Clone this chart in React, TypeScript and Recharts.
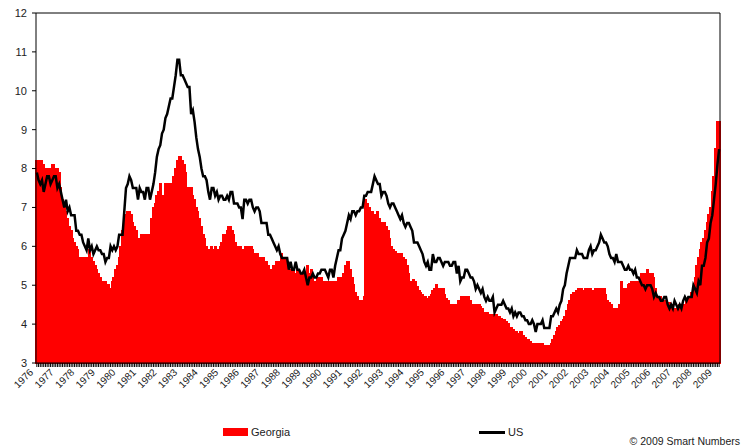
import React from "react";
import {
  ComposedChart,
  Bar,
  Line,
  XAxis,
  YAxis,
  ReferenceLine,
} from "recharts";

// one label per year, data is monthly Jan 1976 .. Mar 2009
const years = [
  "1976", "1977", "1978", "1979", "1980", "1981", "1982", "1983", "1984",
  "1985", "1986", "1987", "1988", "1989", "1990", "1991", "1992", "1993",
  "1994", "1995", "1996", "1997", "1998", "1999", "2000", "2001", "2002",
  "2003", "2004", "2005", "2006", "2007", "2008", "2009",
];

const georgia = [
  8.2, 8.2, 8.1, 8.2, 8.1, 8.0, 8.0, 8.0, 8.0, 8.1, 8.1, 8.0, // 1976
  8.0, 7.9, 7.5, 7.2, 7.0, 6.9, 6.7, 6.5, 6.4, 6.2, 6.1, 6.0, // 1977
  5.9, 5.7, 5.7, 5.7, 5.7, 5.7, 5.7, 5.9, 5.7, 5.6, 5.5, 5.4, // 1978
  5.3, 5.2, 5.1, 5.1, 5.1, 5.0, 5.0, 4.9, 5.1, 5.2, 5.4, 5.5, // 1979
  5.7, 6.0, 6.4, 6.7, 6.8, 6.9, 6.9, 6.8, 6.6, 6.5, 6.4, 6.1, // 1980
  6.2, 6.3, 6.3, 6.3, 6.3, 6.3, 6.3, 6.7, 7.0, 7.1, 7.3, 7.4, // 1981
  7.6, 7.2, 7.3, 7.6, 7.6, 7.6, 7.6, 7.5, 7.8, 8.0, 8.2, 8.3, // 1982
  8.3, 8.2, 8.1, 7.9, 7.5, 7.5, 7.5, 7.3, 7.2, 7.0, 6.9, 6.7, // 1983
  6.5, 6.3, 6.2, 6.0, 5.9, 5.9, 6.0, 5.9, 6.0, 5.9, 5.9, 6.0, // 1984
  6.1, 6.3, 6.3, 6.4, 6.5, 6.5, 6.4, 6.3, 6.1, 6.0, 6.0, 6.0, // 1985
  5.9, 5.9, 6.0, 6.0, 6.0, 6.0, 5.9, 5.8, 5.8, 5.8, 5.7, 5.7, // 1986
  5.7, 5.6, 5.6, 5.5, 5.4, 5.4, 5.5, 5.5, 5.6, 5.6, 5.5, 5.8, // 1987
  5.7, 5.7, 5.6, 5.5, 5.4, 5.4, 5.4, 5.3, 5.4, 5.3, 5.3, 5.3, // 1988
  5.3, 5.3, 5.5, 5.3, 5.4, 5.3, 5.1, 5.1, 5.2, 5.2, 5.2, 5.1, // 1989
  5.1, 5.1, 5.1, 5.1, 5.1, 5.1, 5.1, 5.1, 5.2, 5.2, 5.2, 5.3, // 1990
  5.5, 5.6, 5.6, 5.4, 5.2, 5.0, 4.8, 4.7, 4.6, 4.6, 4.6, 4.7, // 1991
  7.2, 7.1, 7.0, 6.9, 6.9, 6.8, 6.8, 6.9, 6.7, 6.6, 6.6, 6.6, // 1992
  6.5, 6.4, 6.2, 6.0, 5.9, 5.85, 5.8, 5.8, 5.8, 5.8, 5.7, 5.65, // 1993
  5.5, 5.3, 5.1, 5.0, 5.15, 5.1, 4.95, 4.85, 4.8, 4.75, 4.7, 4.7, // 1994
  4.65, 4.7, 4.75, 4.85, 4.9, 5.0, 4.9, 4.9, 4.9, 4.9, 4.75, 4.65, // 1995
  4.6, 4.5, 4.5, 4.5, 4.5, 4.5, 4.6, 4.6, 4.7, 4.7, 4.7, 4.7, // 1996
  4.7, 4.6, 4.5, 4.5, 4.5, 4.5, 4.5, 4.45, 4.4, 4.3, 4.3, 4.3, // 1997
  4.25, 4.25, 4.25, 4.25, 4.25, 4.2, 4.2, 4.15, 4.1, 4.1, 4.05, 4.0, // 1998
  3.9, 3.9, 3.85, 3.8, 3.8, 3.75, 3.8, 3.8, 3.7, 3.65, 3.6, 3.6, // 1999
  3.55, 3.5, 3.5, 3.5, 3.5, 3.5, 3.5, 3.5, 3.45, 3.45, 3.45, 3.45, // 2000
  3.5, 3.6, 3.7, 3.8, 3.9, 3.95, 4.05, 4.1, 4.2, 4.35, 4.5, 4.6, // 2001
  4.75, 4.8, 4.8, 4.85, 4.9, 4.9, 4.9, 4.85, 4.9, 4.9, 4.9, 4.9, // 2002
  4.85, 4.85, 4.9, 4.9, 4.9, 4.9, 4.9, 4.9, 4.75, 4.6, 4.55, 4.5, // 2003
  4.4, 4.4, 4.3, 4.4, 4.5, 5.1, 4.9, 4.9, 4.9, 5.0, 5.05, 5.1, // 2004
  5.1, 5.1, 5.1, 5.1, 5.2, 5.3, 5.3, 5.3, 5.4, 5.3, 5.3, 5.3, // 2005
  5.2, 4.9, 4.7, 4.7, 4.7, 4.6, 4.6, 4.55, 4.55, 4.55, 4.5, 4.5, // 2006
  4.4, 4.2, 4.4, 4.5, 4.5, 4.5, 4.4, 4.6, 4.65, 4.7, 4.8, 4.9, // 2007
  5.2, 5.5, 5.7, 5.9, 6.1, 6.2, 6.4, 6.6, 6.8, 7.0, 7.4, 7.8, // 2008
  8.5, 9.2, 9.2, // 2009
];

const us = [
  7.9, 7.7, 7.6, 7.7, 7.4, 7.6, 7.8, 7.8, 7.6, 7.7, 7.8, 7.8, // 1976
  7.5, 7.6, 7.4, 7.2, 7.0, 7.2, 6.9, 7.0, 6.8, 6.8, 6.8, 6.4, // 1977
  6.4, 6.3, 6.3, 6.1, 6.0, 5.9, 6.2, 5.9, 6.0, 5.8, 5.9, 6.0, // 1978
  5.9, 5.9, 5.8, 5.8, 5.6, 5.7, 5.7, 6.0, 5.9, 6.0, 5.9, 6.0, // 1979
  6.3, 6.3, 6.3, 6.9, 7.5, 7.6, 7.8, 7.7, 7.5, 7.5, 7.5, 7.2, // 1980
  7.5, 7.4, 7.4, 7.2, 7.5, 7.5, 7.2, 7.4, 7.6, 7.9, 8.3, 8.5, // 1981
  8.6, 8.9, 9.0, 9.3, 9.4, 9.6, 9.8, 9.8, 10.1, 10.4, 10.8, 10.8, // 1982
  10.4, 10.4, 10.3, 10.2, 10.1, 10.1, 9.4, 9.5, 9.2, 8.8, 8.5, 8.3, // 1983
  8.0, 7.8, 7.8, 7.7, 7.4, 7.2, 7.5, 7.5, 7.3, 7.4, 7.2, 7.3, // 1984
  7.3, 7.2, 7.2, 7.3, 7.2, 7.4, 7.4, 7.1, 7.1, 7.1, 7.0, 7.0, // 1985
  6.7, 7.2, 7.2, 7.1, 7.2, 7.2, 7.0, 6.9, 7.0, 7.0, 6.9, 6.6, // 1986
  6.6, 6.6, 6.6, 6.3, 6.3, 6.2, 6.1, 6.0, 5.9, 6.0, 5.8, 5.7, // 1987
  5.7, 5.7, 5.7, 5.4, 5.6, 5.4, 5.4, 5.6, 5.4, 5.4, 5.3, 5.3, // 1988
  5.4, 5.2, 5.0, 5.2, 5.2, 5.3, 5.2, 5.2, 5.3, 5.3, 5.4, 5.4, // 1989
  5.4, 5.3, 5.2, 5.4, 5.4, 5.2, 5.5, 5.7, 5.9, 5.9, 6.2, 6.3, // 1990
  6.4, 6.6, 6.8, 6.7, 6.9, 6.9, 6.8, 6.9, 6.9, 7.0, 7.0, 7.3, // 1991
  7.3, 7.4, 7.4, 7.4, 7.6, 7.8, 7.7, 7.6, 7.6, 7.3, 7.4, 7.4, // 1992
  7.3, 7.1, 7.0, 7.1, 7.1, 7.0, 6.9, 6.8, 6.7, 6.8, 6.6, 6.5, // 1993
  6.6, 6.6, 6.5, 6.4, 6.1, 6.1, 6.1, 6.0, 5.9, 5.8, 5.6, 5.5, // 1994
  5.6, 5.4, 5.4, 5.8, 5.6, 5.6, 5.7, 5.7, 5.6, 5.5, 5.6, 5.6, // 1995
  5.6, 5.5, 5.5, 5.6, 5.6, 5.3, 5.5, 5.1, 5.2, 5.2, 5.4, 5.4, // 1996
  5.3, 5.2, 5.2, 5.1, 4.9, 5.0, 4.9, 4.8, 4.9, 4.7, 4.6, 4.7, // 1997
  4.6, 4.6, 4.7, 4.3, 4.4, 4.5, 4.5, 4.5, 4.6, 4.5, 4.4, 4.4, // 1998
  4.3, 4.4, 4.2, 4.3, 4.2, 4.3, 4.3, 4.2, 4.2, 4.1, 4.1, 4.0, // 1999
  4.0, 4.1, 4.0, 3.8, 4.0, 4.0, 4.0, 4.1, 3.9, 3.9, 3.9, 3.9, // 2000
  4.2, 4.2, 4.3, 4.4, 4.3, 4.5, 4.6, 4.9, 5.0, 5.3, 5.5, 5.7, // 2001
  5.7, 5.7, 5.7, 5.9, 5.8, 5.8, 5.8, 5.7, 5.7, 5.7, 5.9, 6.0, // 2002
  5.8, 5.9, 5.9, 6.0, 6.1, 6.3, 6.2, 6.1, 6.1, 6.0, 5.8, 5.7, // 2003
  5.7, 5.6, 5.8, 5.6, 5.6, 5.6, 5.5, 5.4, 5.4, 5.5, 5.4, 5.4, // 2004
  5.3, 5.4, 5.2, 5.2, 5.1, 5.0, 5.0, 4.9, 5.0, 5.0, 5.0, 4.9, // 2005
  4.7, 4.8, 4.7, 4.7, 4.6, 4.6, 4.7, 4.7, 4.5, 4.4, 4.5, 4.4, // 2006
  4.6, 4.5, 4.4, 4.5, 4.4, 4.6, 4.7, 4.6, 4.7, 4.7, 4.7, 5.0, // 2007
  4.9, 4.8, 5.1, 5.0, 5.5, 5.5, 5.7, 6.1, 6.2, 6.6, 6.8, 7.2, // 2008
  7.6, 8.1, 8.5, // 2009
];

const yTicks = [3, 4, 5, 6, 7, 8, 9, 10, 11, 12];

const rows = georgia.map((g, i) => ({
  year: years[Math.floor(i / 12)],
  month: i,
  georgia: g,
  us: us[i],
}));

const FONT = "Arial, 'Liberation Sans', sans-serif";

const YearTick = (props: any) => {
  const { x, y, index, payload } = props;
  if (index % 12 !== 0) return null;
  return (
    <text
      x={0}
      y={0}
      transform={`translate(${x - 3},${y + 4}) rotate(-45)`}
      textAnchor="end"
      fontSize={10}
      fontFamily={FONT}
      fill="#222"
    >
      {rows[payload.value].year}
    </text>
  );
};

export default function App() {
  return (
    <div
      style={{
        position: "absolute",
        left: 0,
        top: 0,
        width: 745,
        height: 448,
        background: "#fff",
        fontFamily: FONT,
      }}
    >
      <ComposedChart
        width={745}
        height={448}
        data={rows}
        margin={{ top: 13, right: 0, bottom: 0, left: 0 }}
        barCategoryGap={0}
        barGap={0}
      >
        <XAxis
          dataKey="month"
          interval={0}
          height={85}
          tick={<YearTick />}
          tickSize={4}
          tickLine={{ stroke: "#000" }}
          axisLine={{ stroke: "#000" }}
        />
        <YAxis
          yAxisId="left"
          domain={[3, 12]}
          ticks={yTicks}
          width={36}
          tickSize={4}
          tickMargin={5}
          axisLine={{ stroke: "#000" }}
          tickLine={{ stroke: "#000" }}
          tick={{ fontSize: 11, fill: "#222", fontFamily: FONT }}
        />
        <YAxis
          yAxisId="right"
          orientation="right"
          domain={[3, 12]}
          ticks={yTicks}
          width={25}
          tickSize={5}
          tickMargin={3}
          axisLine={{ stroke: "#000" }}
          tickLine={{ stroke: "#000" }}
          tick={{ fontSize: 11, fill: "#222", fontFamily: FONT }}
        />
        <ReferenceLine yAxisId="left" y={12} stroke="#000" />
        <Bar
          yAxisId="left"
          dataKey="georgia"
          name="Georgia"
          fill="#FF0000"
          stroke="#FF0000"
          strokeWidth={1.5}
          shapeRendering="crispEdges"
          barSize={2}
          isAnimationActive={false}
        />
        <Line
          yAxisId="left"
          dataKey="us"
          name="US"
          type="linear"
          stroke="#000"
          strokeWidth={2.5}
          dot={false}
          activeDot={false}
          isAnimationActive={false}
        />
      </ComposedChart>

      {/* legend */}
      <div
        style={{
          position: "absolute",
          left: 223,
          top: 426,
          display: "flex",
          alignItems: "center",
          fontSize: 11,
          color: "#222",
        }}
      >
        <span
          style={{
            display: "inline-block",
            width: 25,
            height: 8,
            background: "#FF0000",
            marginRight: 3,
          }}
        />
        Georgia
      </div>
      <div
        style={{
          position: "absolute",
          left: 479,
          top: 426,
          display: "flex",
          alignItems: "center",
          fontSize: 11,
          color: "#222",
        }}
      >
        <span
          style={{
            display: "inline-block",
            width: 26,
            height: 3,
            background: "#000",
            marginRight: 3,
          }}
        />
        US
      </div>
      <div
        style={{
          position: "absolute",
          right: 5,
          top: 435,
          fontSize: 10.5,
          color: "#222",
        }}
      >
        © 2009 Smart Numbers
      </div>
    </div>
  );
}
